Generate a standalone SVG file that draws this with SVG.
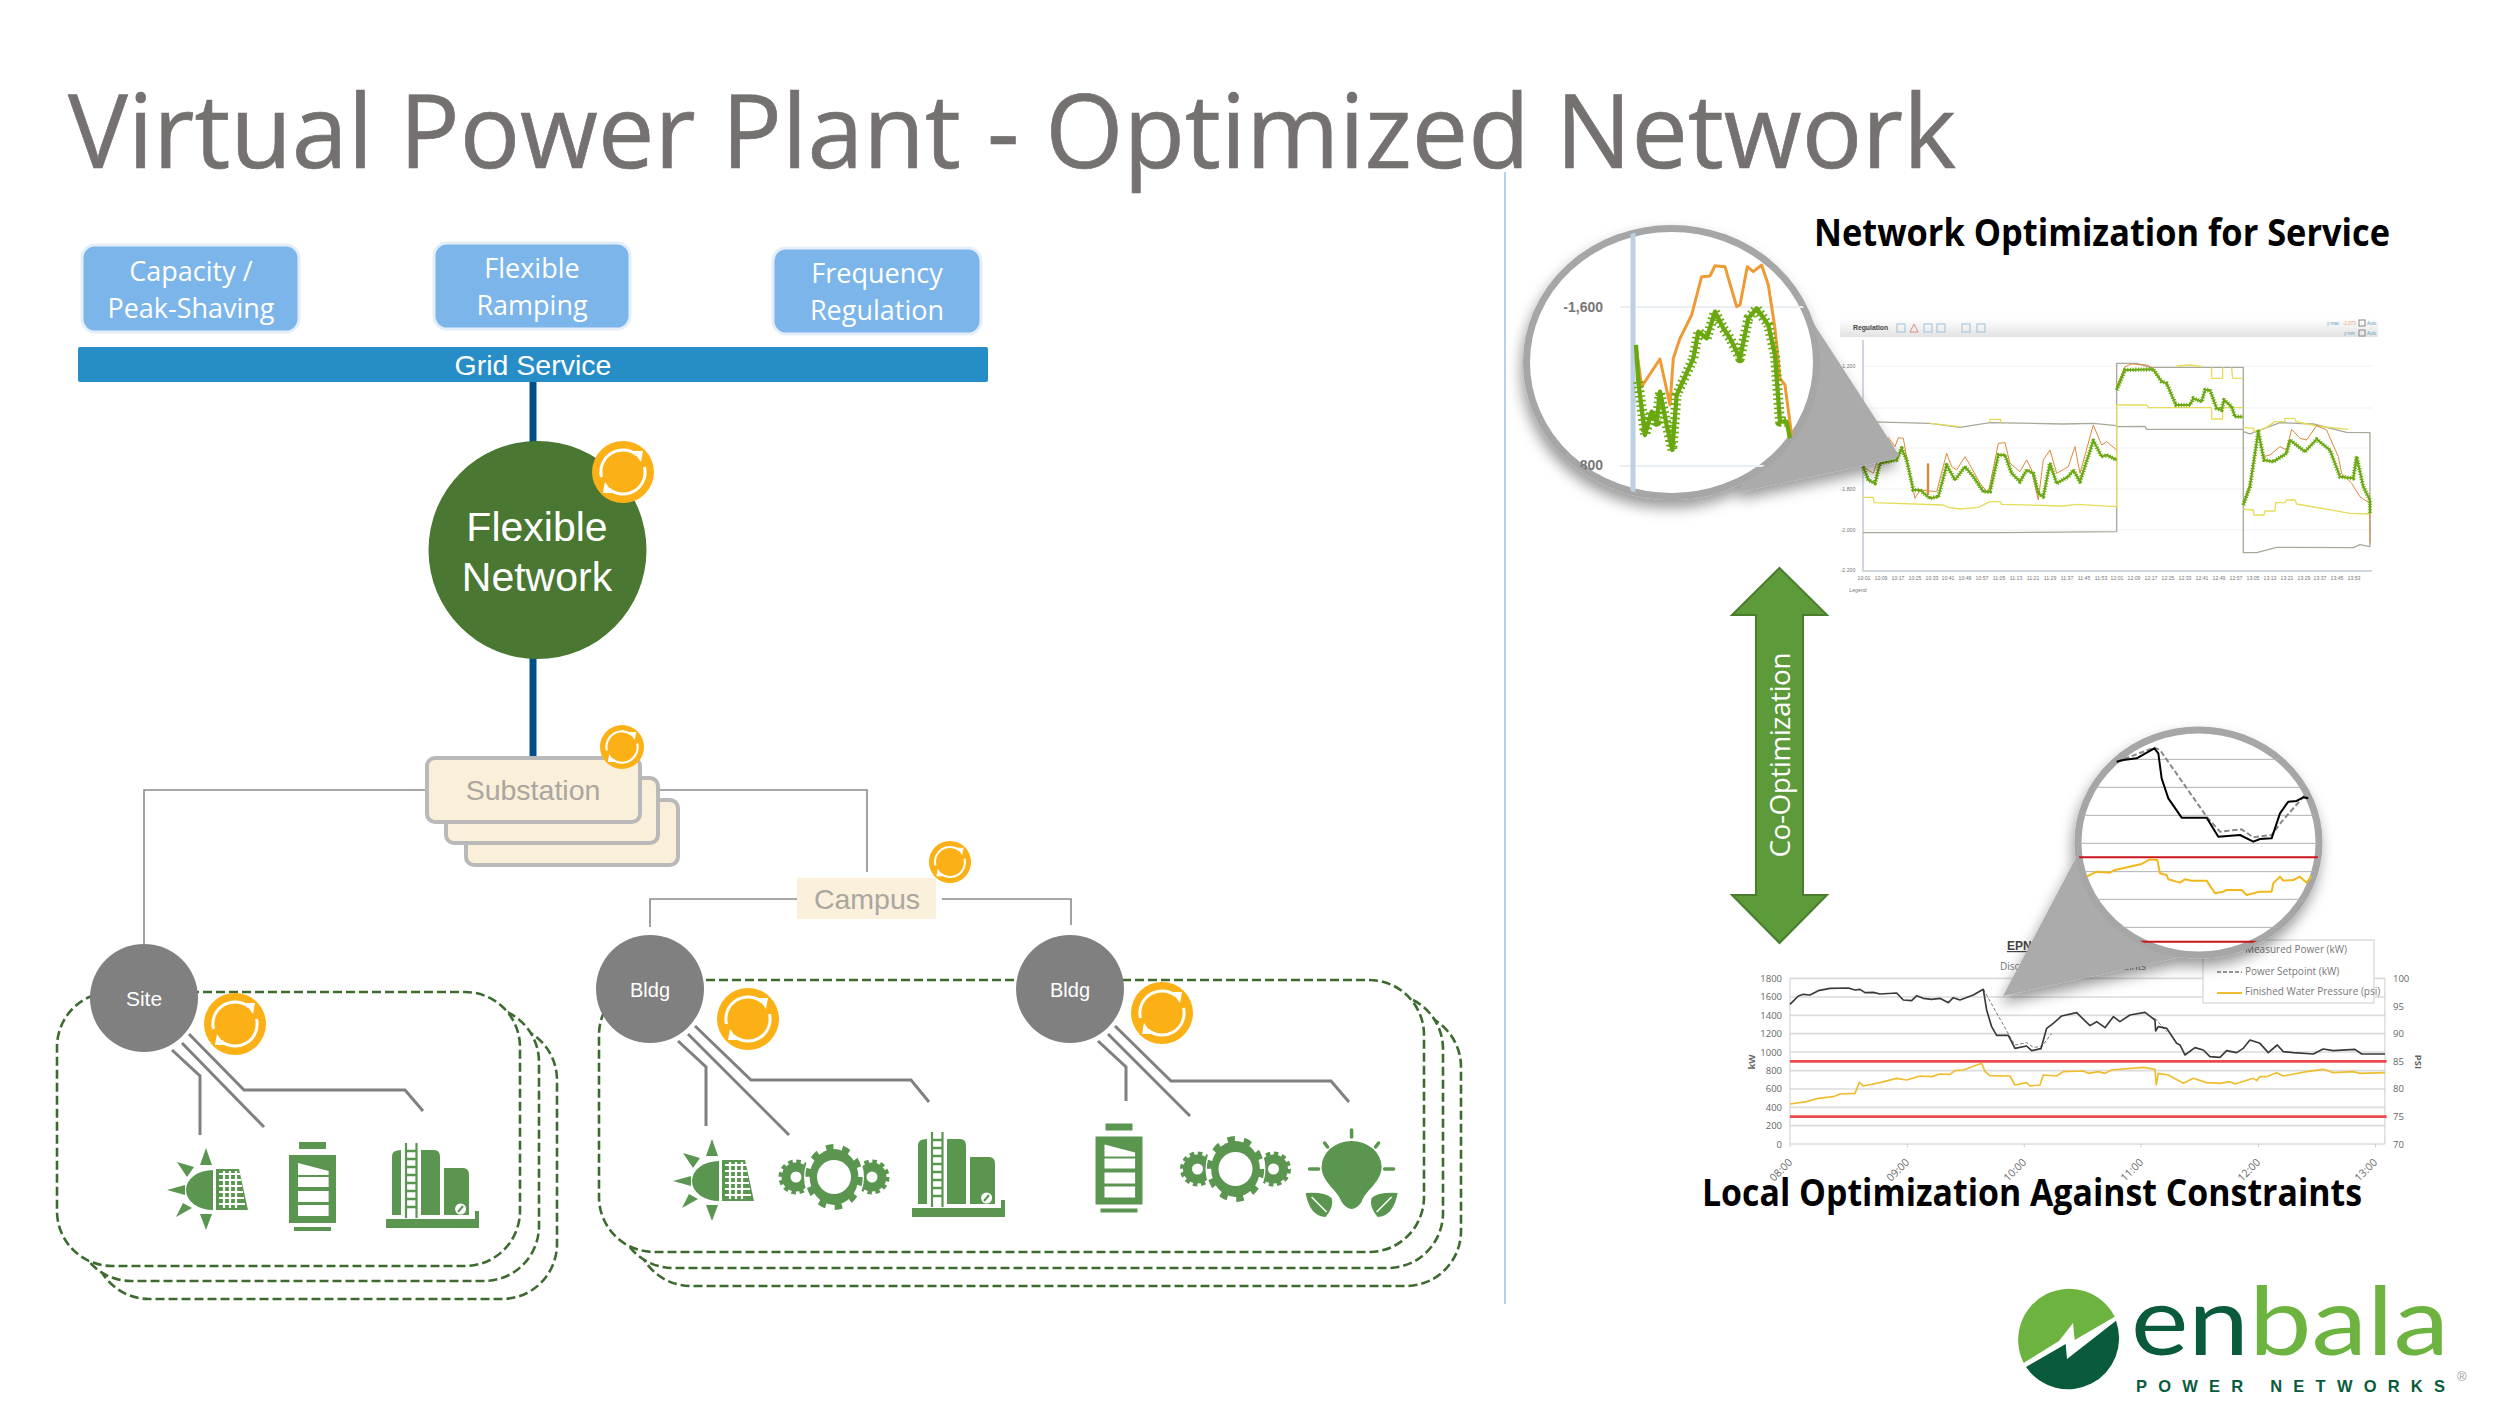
<svg xmlns="http://www.w3.org/2000/svg" width="2500" height="1407" viewBox="0 0 2500 1407">
<style>
.os{font-family:"Open Sans","Noto Sans",sans-serif}
.ar{font-family:"Liberation Sans",Arial,sans-serif}
.sv{fill:#fff;text-anchor:middle;font-size:28.5px}
.sv2{fill:#fff;text-anchor:middle;font-size:27px}
.box{fill:#7cb5ea;stroke:#e4eef9;stroke-width:3}
.wire{fill:none;stroke:#8a8a8a;stroke-width:1.6}
.link{fill:none;stroke:#808080;stroke-width:3}
.trunk{stroke:#014f88;stroke-width:7}
.sub{fill:#faefd9;stroke:#b9b9b9;stroke-width:4}
.hub{fill:#808080}
.dash{fill:#fff;stroke:#3d6b2f;stroke-width:2.6;stroke-dasharray:9 4}
.ic{fill:#5a9650}
.wh{fill:#fff}
.hl{fill:#fff;text-anchor:middle}
.sc{font-family:"Open Sans","Noto Sans",sans-serif;font-size:9.5px;fill:#666}
.xl{font-size:10.5px}
.tk{font-family:"Liberation Sans",Arial,sans-serif;font-size:5.2px;fill:#777;text-anchor:middle}
.pl{fill:none;stroke-linejoin:round}
.lens{fill:#fff;stroke:#a6a6a6;stroke-width:7}
.call{fill:#ababab}
.h2{font-family:"Open Sans","Noto Sans",sans-serif;font-weight:700;fill:#000;font-size:38px}
.lg{font-family:"Open Sans","Noto Sans",sans-serif;font-size:10px;fill:#777}
</style>
<defs>
<filter id="sh" x="-20%" y="-20%" width="140%" height="140%"><feDropShadow dx="-2" dy="8" stdDeviation="7" flood-color="#000" flood-opacity=".4"/></filter>
<linearGradient id="hdr" x1="0" y1="0" x2="0" y2="1"><stop offset="0" stop-color="#fff"/><stop offset="1" stop-color="#e3e3e3"/></linearGradient>
<clipPath id="c1"><ellipse cx="1671.5" cy="362.5" rx="145" ry="134"/></clipPath>
<clipPath id="c2"><ellipse cx="2198.5" cy="842.5" rx="120.5" ry="112.5"/></clipPath>
<g id="sync"><circle r="31" fill="#fbb116"/><path d="M-21.500,5A22 22 0 0 1 14,-17" fill="none" stroke="#fff" stroke-width="3"/><path d="M21.500,-5A22 22 0 0 1 -14,17" fill="none" stroke="#fff" stroke-width="3"/><path d="M10,-21L20,-21L18,-10Z M-10,21L-20,21L-18,10Z" fill="#fff"/></g>
<g id="solar" class="ic"><path d="M7-20A27 20 0 0 0 7 20Z"/><path d="M0-42L-6-25H6ZM0 40L-6 24H6ZM-39 0L-21-5V5ZM-29-28L-12-23L-19-13ZM-30 27L-14 18L-23 13Z"/><path d="M10-21H33L42 20H10Z"/><path d="M13-16H34M13-10H35M13-4H36M13 2H37M13 8H38M13 14H39M18-19V18M24-19V18M30-19V18" fill="none" stroke="#fff" stroke-width="2.200"/></g>
<g id="batt"><path class="ic" d="M-13-45H14V-38H-13ZM-23-32H24V36H-23ZM-18 40H19V44H-18Z"/><path class="wh" d="M-14-24L16.600-16V-12H-14ZM-14-10H16.600V0H-14ZM-14 4H16.600V15H-14ZM-14 18H16.600V29H-14Z"/></g>
<g id="tank"><path class="ic" d="M-46 32H47V41H-46ZM-40-31Q-40-37-31-37V28H-40ZM-11-37H2Q8-37 8-30V28H-11ZM12-19H31Q37-19 37-12V28H12ZM43 24H47V32H43Z"/><path d="M-26-44V31M-15.500-44V31" stroke="#5a9650" stroke-width="2.200"/><path d="M-26-36H-15.500M-26-28H-15.500M-26-20H-15.500M-26-12H-15.500M-26-4H-15.500M-26 4H-15.500M-26 12H-15.500M-26 20H-15.500" stroke="#5a9650" stroke-width="2.500"/><circle cx="28.600" cy="22" r="5.500" fill="#fff"/><path d="M26 25L31 19" stroke="#5a9650" stroke-width="2"/></g>
<g id="gear"><g fill="none" stroke="#5a9650"><circle cx="-38" r="10" stroke-width="9"/><circle cx="-38" r="15.500" stroke-width="4" stroke-dasharray="4.500 3.600"/><circle cx="38" r="10" stroke-width="9"/><circle cx="38" r="15.500" stroke-width="4" stroke-dasharray="4.500 3.600"/></g><ellipse rx="30" ry="35" class="wh"/><g transform="scale(.87 1)"><circle class="ic" r="28"/><circle r="30" fill="none" stroke="#5a9650" stroke-width="6" stroke-dasharray="8.500 10.350"/></g><circle r="17" class="wh"/></g>
<g id="bulb"><path class="ic" d="M-30-5A30 26 0 0 1 30-5C30 10 14 18 10 30Q0 44-10 30C-14 18-30 10-30-5Z"/><path d="M0-42V-35M-27-29L-24-25M27-29L24-25M-42-3H-33M33-3H42" stroke="#5a9650" stroke-width="3.500" stroke-linecap="round"/><path class="ic" d="M-46 21Q-26 20-20 26Q-17 34-26 45Q-42 44-46 21ZM46 21Q26 20 20 26Q17 34 26 45Q42 44 46 21Z"/><path d="M-40 25L-25 40M40 25L25 40" stroke="#fff" stroke-width="1.500"/></g>
</defs>

<rect width="2500" height="1407" fill="#fff"/>
<text id="title" class="os" x="68" y="168" font-size="103" fill="#767171" stroke="#767171" stroke-width=".7" textLength="1888" lengthAdjust="spacingAndGlyphs">Virtual Power Plant - Optimized Network</text>
<line id="divider" x1="1505" y1="172" x2="1505" y2="1304" stroke="#9cc3de" stroke-width="1.500"/>

<g id="connectors">
<line class="trunk" x1="533" y1="382" x2="533" y2="445"/>
<line class="trunk" x1="533" y1="655" x2="533" y2="760"/>
<path class="wire" d="M427 790H144V945"/>
<path class="wire" d="M640 790H867V872"/>
<path class="wire" d="M797 899H650V927"/>
<path class="wire" d="M942 899H1071V925"/>
</g>

<g id="stack-site"><rect class="dash" x="94" y="1025" width="463" height="274" rx="55"/><rect class="dash" x="76" y="1007" width="463" height="274" rx="55"/><rect class="dash" x="57" y="992" width="463" height="274" rx="55"/></g>
<g id="stack-campus"><rect class="dash" x="636" y="1012" width="825" height="274" rx="55"/><rect class="dash" x="618" y="994" width="825" height="274" rx="55"/><rect class="dash" x="599" y="980" width="825" height="272" rx="55"/></g>

<g id="links">
<path class="link" d="M172 1050L200 1076V1135"/><path class="link" d="M182 1043L264 1127"/><path class="link" d="M189 1034L244 1090H405L423 1111"/>
<path class="link" d="M678 1041L706 1067V1126"/><path class="link" d="M688 1034L789 1135"/><path class="link" d="M695 1026L751 1080H911L929 1102"/>
<path class="link" d="M1098 1041L1126 1067V1101"/><path class="link" d="M1108 1034L1190 1116"/><path class="link" d="M1115 1026L1171 1081H1331L1349 1102"/>
</g>

<g id="svc-capacity"><rect class="box" x="82" y="245" width="217" height="87" rx="13"/><text class="os sv2" x="191" y="281">Capacity /</text><text class="os sv2" x="191" y="318" textLength="167" lengthAdjust="spacingAndGlyphs">Peak-Shaving</text></g>
<g id="svc-ramping"><rect class="box" x="434" y="243" width="196" height="86" rx="13"/><text class="os sv2" x="532" y="278">Flexible</text><text class="os sv2" x="532" y="315">Ramping</text></g>
<g id="svc-frequency"><rect class="box" x="773" y="248" width="208" height="86" rx="13"/><text class="os sv2" x="877" y="283">Frequency</text><text class="os sv2" x="877" y="320">Regulation</text></g>
<g id="grid-service"><rect x="78" y="347" width="910" height="35" rx="2" fill="#268dc6"/><text class="ar sv" x="533" y="375">Grid Service</text></g>
<g id="flexible-network"><circle cx="537.500" cy="550" r="109" fill="#4a7731"/><text class="ar hl" x="537" y="541" font-size="41">Flexible</text><text class="ar hl" x="537" y="591" font-size="41">Network</text><use href="#sync" x="623" y="472"/></g>
<g id="substation"><rect class="sub" x="466" y="800" width="212" height="65" rx="8"/><rect class="sub" x="446" y="778" width="212" height="65" rx="8"/><rect class="sub" x="427" y="758" width="213" height="64" rx="8"/><text class="ar" x="533" y="800" font-size="28.500" fill="#aaa6a0" text-anchor="middle">Substation</text><use href="#sync" transform="translate(622 747) scale(.71)"/></g>
<g id="campus"><rect x="797" y="878" width="139" height="41" fill="#faf0dc"/><text class="ar" x="867" y="909" font-size="28.500" fill="#aaa6a0" text-anchor="middle">Campus</text><use href="#sync" transform="translate(950 862) scale(.68)"/></g>

<g id="site"><circle class="hub" cx="144" cy="998" r="54"/><text class="ar hl" x="144" y="1006" font-size="21">Site</text><use href="#sync" x="235" y="1024"/></g>
<g id="bldg-1"><circle class="hub" cx="650" cy="989" r="54"/><text class="ar hl" x="650" y="997" font-size="20">Bldg</text><use href="#sync" x="748" y="1019"/></g>
<g id="bldg-2"><circle class="hub" cx="1070" cy="989" r="54"/><text class="ar hl" x="1070" y="997" font-size="20">Bldg</text><use href="#sync" x="1162" y="1013"/></g>

<g id="assets">
<use href="#solar" x="206" y="1190"/><use href="#batt" x="312" y="1187"/><use href="#tank" x="432" y="1187"/>
<use href="#solar" x="712" y="1181"/><use href="#gear" x="834" y="1177"/><use href="#tank" x="958" y="1176"/>
<use href="#batt" x="1118.500" y="1168.500"/><use href="#gear" x="1235.500" y="1169"/><use href="#bulb" x="1351.600" y="1172"/>
</g>

<g id="co-optimization"><path d="M1779.500 568L1827 615H1803V895H1827L1779.500 943L1732 895H1756V615H1732Z" fill="#5c9a3a" stroke="#4a7d2d" stroke-width="2"/><text class="os" transform="translate(1790 755) rotate(-90)" font-size="28" fill="#fff" text-anchor="middle" textLength="205">Co-Optimization</text></g>

<text id="head-top" class="h2" x="1814" y="246" textLength="576" lengthAdjust="spacingAndGlyphs">Network Optimization for Service</text>
<text id="head-bottom" class="h2" x="1702" y="1206" textLength="660" lengthAdjust="spacingAndGlyphs">Local Optimization Against Constraints</text>

<g id="chart-top">
<rect x="1840" y="318" width="538" height="19" fill="url(#hdr)"/>
<text class="ar" x="1853" y="330" font-size="6.800" font-weight="700" fill="#444">Regulation</text>
<g fill="none" stroke="#9fc0da" stroke-width="1"><rect x="1897" y="324" width="8" height="8"/><rect x="1924" y="324" width="8" height="8"/><rect x="1937" y="324" width="8" height="8"/><rect x="1962" y="324" width="8" height="8"/><rect x="1977" y="324" width="8" height="8"/></g>
<path d="M1910 332L1914 324L1918 332Z" fill="none" stroke="#e08a80"/>
<g class="ar" font-size="4.500"><text x="2327" y="325" fill="#5aa0c0">y max</text><text x="2343" y="325" fill="#e8a070">-1,073</text><text x="2367" y="325" fill="#5aa0c0">Auto</text><text x="2344" y="335" fill="#5aa0c0">y min</text><text x="2367" y="335" fill="#5aa0c0">Auto</text></g>
<rect x="2359" y="320" width="6" height="6" fill="none" stroke="#888"/><rect x="2359" y="330" width="6" height="6" fill="none" stroke="#888"/>
<path d="M1863 366H2372M1863 408H2372M1863 448H2372M1863 489H2372M1863 530H2372" stroke="#f1f1f1"/>
<path d="M1863 340V571H2372" fill="none" stroke="#c0ccd8" stroke-width="1.500"/>
<g class="tk"><text x="1848" y="368">-1,200</text><text x="1848" y="491">-1,800</text><text x="1848" y="532">-2,000</text><text x="1848" y="572">-2,200</text></g>
<g class="tk"><text x="1864" y="580">10:01</text><text x="1881" y="580">10:09</text><text x="1898" y="580">10:17</text><text x="1915" y="580">10:25</text><text x="1932" y="580">10:33</text><text x="1948" y="580">10:41</text><text x="1965" y="580">10:49</text><text x="1982" y="580">10:57</text><text x="1999" y="580">11:05</text><text x="2016" y="580">11:13</text><text x="2033" y="580">11:21</text><text x="2050" y="580">11:29</text><text x="2067" y="580">11:37</text><text x="2084" y="580">11:45</text><text x="2101" y="580">11:53</text><text x="2117" y="580">12:01</text><text x="2134" y="580">12:09</text><text x="2151" y="580">12:17</text><text x="2168" y="580">12:25</text><text x="2185" y="580">12:33</text><text x="2202" y="580">12:41</text><text x="2219" y="580">12:49</text><text x="2236" y="580">12:57</text><text x="2253" y="580">13:05</text><text x="2270" y="580">13:13</text><text x="2287" y="580">13:21</text><text x="2304" y="580">13:29</text><text x="2320" y="580">13:37</text><text x="2337" y="580">13:45</text><text x="2354" y="580">13:53</text></g>
<text class="tk" x="1858" y="592">Legend</text>
<g transform="translate(1830 310) scale(.3333)">
<path class="pl" stroke="#a8a89a" stroke-width="4" d="M99 668L500 668L860 665V160H920L960 172H1240V728H1280L1340 712L1570 713L1590 704L1620 710V370M860 350L945 349L950 358H1240M99 335L300 340L390 352L480 338L700 342L790 340L860 347M1240 365L1260 372L1350 338L1450 342L1550 367L1620 368V438"/>
<path class="pl" stroke="#e6dc5a" stroke-width="4" d="M99 562H130L132 578L340 585L355 592L390 597L445 592L480 575H510L515 583L700 588L740 583L860 590V285H950L955 293H1145V327H1178V293H1240M1240 598L1270 600L1272 615H1302L1305 603H1335L1337 578H1365L1370 570H1395L1400 582L1560 610L1620 612M1240 352L1272 355V365L1305 355L1335 335H1365V325H1395L1398 335L1460 348L1555 358M480 338V328H512V338M300 340L390 350M1040 168L1080 165L1115 170M1145 172V205H1178V172M1205 172L1208 205H1240"/>
<path class="pl" stroke="#d98a3a" stroke-width="3" d="M99 470L130 490L150 430L175 383L195 410L205 383L220 385L235 470L255 565L270 540L320 545L350 430L365 470L380 480L405 440L420 465L450 520L475 550L505 400L525 398L540 460L570 485L590 450L605 480L625 570L640 450L660 420L680 490L715 470L735 410L750 490L790 345L815 405L830 395L860 420M860 230L885 170L905 162L950 165L970 175M1240 580L1260 520L1285 365L1300 440L1320 435L1350 410L1370 420L1385 358L1410 385L1430 390L1460 347L1490 360L1525 440L1535 490L1565 520L1590 560L1620 580V700"/>
<path stroke="#d98a3a" stroke-width="7" d="M294 460V555"/>
<path id="g1" class="pl" stroke="#6aa810" stroke-width="6" d="M99 470L115 510L135 520L150 460L200 450L215 415L230 450L250 540L270 540L300 565L325 560L350 465L375 510L405 470L430 500L460 545L480 545L505 435L525 435L545 490L570 515L590 480L610 490L625 550L640 560L660 460L680 520L715 500L730 480L750 515L790 392L815 440L830 435L860 450M860 240L885 180L970 178L995 215L1010 220L1038 285H1080L1090 265L1115 275L1125 240H1140L1160 295L1175 300L1182 270L1205 290L1215 320H1238M1240 585L1260 530L1285 365L1302 450L1330 455L1370 430L1380 390L1425 425L1460 388L1500 420L1530 500L1570 505L1580 440L1600 530L1620 570V610"/>
<path class="pl" stroke="#6aa810" stroke-width="13" stroke-dasharray="3 5" d="M99 470L115 510L135 520L150 460L200 450L215 415L230 450L250 540L270 540L300 565L325 560L350 465L375 510L405 470L430 500L460 545L480 545L505 435L525 435L545 490L570 515L590 480L610 490L625 550L640 560L660 460L680 520L715 500L730 480L750 515L790 392L815 440L830 435L860 450M860 240L885 180L970 178L995 215L1010 220L1038 285H1080L1090 265L1115 275L1125 240H1140L1160 295L1175 300L1182 270L1205 290L1215 320H1238M1240 585L1260 530L1285 365L1302 450L1330 455L1370 430L1380 390L1425 425L1460 388L1500 420L1530 500L1570 505L1580 440L1600 530L1620 570V610"/>
</g>
</g>

<g id="chart-bottom">
<text class="ar" x="2007" y="950" font-size="12" font-weight="700" fill="#444" text-decoration="underline">EPN</text>
<text class="lg" x="2000" y="970" font-size="11">Disc</text><text class="lg" x="2146" y="970" text-anchor="end">straints</text>
<g transform="translate(1740 960) scale(.3333)">
<path stroke="#dcdcdc" stroke-width="5" d="M150 55H1935M150 111H1935M150 166H1935M150 221H1935M150 276H1935M150 332H1935M150 387H1935M150 442H1935M150 497H1935M150 552H1935"/>
<path d="M150 55V552M1935 55V552M150 552V562M502 552V562M853 552V562M1203 552V562M1556 552V562M1907 552V562" fill="none" stroke="#ccc" stroke-width="3"/>
<path stroke="#ea4a4e" stroke-width="8" d="M150 304H1940M150 470H1940"/>
<path class="pl" stroke="#777" stroke-width="3" stroke-dasharray="10 6" d="M730 88L810 230L825 255L860 248L880 262L905 260L935 220M1245 175L1280 215"/>
<path class="pl" stroke="#f0bd30" stroke-width="5" d="M150 432L200 425L235 415L280 410L300 402L345 400L358 367L370 378L420 368L470 355L500 360L540 348L575 350L600 342L630 343L645 332L670 330L725 310L735 335L750 347L810 348L825 375L860 368L870 378L900 375L910 345L950 348L970 335L1030 333L1045 340L1075 335L1095 340L1115 330L1210 322L1245 328L1249 375L1255 340L1285 345L1330 370L1360 355L1400 368L1440 370L1470 365L1485 372L1540 355L1550 362L1560 350L1580 350L1610 338L1630 348L1700 335L1750 328L1780 338L1840 335L1860 340L1935 338"/>
<path class="pl" stroke="#3a3a3a" stroke-width="5" d="M150 133L175 108L190 103L210 105L235 92L270 85L325 84L345 90L360 88L375 98L400 97L420 102L470 99L490 120L515 122L530 107L550 115L575 118L600 115L625 128L640 113L660 120L700 105L730 88L740 150L755 200L770 226L805 226L825 265L860 258L875 272L903 266L920 205L940 190L965 168L1010 158L1050 197L1070 185L1095 203L1120 170L1140 185L1170 165L1215 157L1245 180L1247 213L1255 200L1280 205L1310 250L1320 255L1335 285L1365 263L1390 270L1410 290L1440 292L1460 272L1490 278L1510 265L1530 240L1560 250L1585 278L1612 255L1630 275L1660 278L1720 282L1750 267L1780 272L1845 268L1865 282L1935 282"/>
</g>
<g class="sc" text-anchor="end"><text x="1782" y="982">1800</text><text x="1782" y="1000">1600</text><text x="1782" y="1019">1400</text><text x="1782" y="1037">1200</text><text x="1782" y="1056">1000</text><text x="1782" y="1074">800</text><text x="1782" y="1092">600</text><text x="1782" y="1111">400</text><text x="1782" y="1129">200</text><text x="1782" y="1148">0</text></g>
<g class="sc"><text x="2393" y="982">100</text><text x="2393" y="1010">95</text><text x="2393" y="1037">90</text><text x="2393" y="1065">85</text><text x="2393" y="1092">80</text><text x="2393" y="1120">75</text><text x="2393" y="1148">70</text></g>
<g class="sc xl" text-anchor="end"><text transform="translate(1793 1163) rotate(-45)">08:00</text><text transform="translate(1910 1163) rotate(-45)">09:00</text><text transform="translate(2027 1163) rotate(-45)">10:00</text><text transform="translate(2144 1163) rotate(-45)">11:00</text><text transform="translate(2261 1163) rotate(-45)">12:00</text><text transform="translate(2378 1163) rotate(-45)">13:00</text></g>
<text class="sc" transform="translate(1755 1062) rotate(-90)" text-anchor="middle" font-weight="700">kW</text>
<text class="sc" transform="translate(2415 1062) rotate(90)" text-anchor="middle" font-weight="700">PSI</text>
<rect x="2203" y="940" width="171" height="63" fill="#fff" stroke="#ddd" stroke-width="1.500"/>
<text class="lg" x="2245" y="953">Measured Power (kW)</text><text class="lg" x="2245" y="975">Power Setpoint (kW)</text><text class="lg" x="2245" y="995">Finished Water Pressure (psi)</text>
<path d="M2217 972H2242" stroke="#777" stroke-width="1.500" stroke-dasharray="4 2"/><path d="M2217 993H2242" stroke="#f0bd30" stroke-width="2"/>
</g>

<g id="magnifier-top"><g filter="url(#sh)"><path class="call" d="M1805 310L1899 455L1895 459L1740 492Z"/><ellipse class="lens" cx="1671.500" cy="362.500" rx="145" ry="134"/></g>
<g clip-path="url(#c1)">
<path d="M1620 307H1815M1620 466H1815" stroke="#e9eef3" stroke-width="2"/>
<path d="M1633 225V495" stroke="#bcd0e4" stroke-width="5"/>
<text class="ar" x="1603" y="312" font-size="14" fill="#777" text-anchor="end" font-weight="700">-1,600</text><text class="ar" x="1603" y="470" font-size="14" fill="#777" text-anchor="end" font-weight="700">800</text>
<g transform="translate(1510 215) scale(.3333)"><path class="pl" stroke="#ee9a35" stroke-width="9" d="M378 390L395 515L450 432L480 570L490 430L510 370L545 300L575 185L600 183L615 152L645 155L680 275L690 270L712 155L730 170L755 150L775 210L795 340L810 490L825 510L845 660"/><path class="pl" stroke="#6aa810" stroke-width="13" d="M378 390L385 500L405 660L425 590L440 620L450 530L470 630L487 705L500 540L550 430L565 350L590 370L615 290L640 340L660 370L690 430L715 310L740 280L775 330L795 420L810 620L830 620L840 670"/><path class="pl" stroke="#6aa810" stroke-width="30" stroke-dasharray="5 9" d="M385 500L405 660L425 590L440 620L450 530L470 630L487 705L500 540L550 430L565 350L590 370L615 290L640 340L660 370L690 430L715 310L740 280L775 330L795 420L810 620L830 620"/></g>
</g></g>

<g id="magnifier-bottom"><g filter="url(#sh)"><path class="call" d="M2080 850L2003 996L2190 955Z"/><ellipse class="lens" cx="2198.500" cy="842.500" rx="120.500" ry="112.500"/></g>
<g clip-path="url(#c2)"><g transform="translate(2060 720) scale(.3333)">
<path stroke="#b0b0b0" stroke-width="3" d="M40 118H800M40 202H800M40 286H800M40 370H800M40 455H800M40 538H800M40 622H800"/>
<path stroke="#c8161c" stroke-width="6" d="M40 412H800M40 665H800"/>
<path class="pl" stroke="#888" stroke-width="6" stroke-dasharray="16 8" d="M170 125L283 83L300 90L440 290L480 335L545 328L580 352L635 345L665 305L735 225"/>
<path class="pl" stroke="#000" stroke-width="6" d="M170 125L190 120L230 115L283 85L295 100L305 175L325 235L365 293H440L475 350L540 345L580 365L600 357L635 355L660 280L685 245L710 243L730 232L745 235"/>
<path class="pl" stroke="#f2b71c" stroke-width="6" d="M80 470L110 455L150 458L165 450L245 432L270 418L292 420L300 460L320 465L325 478L360 488L375 478L395 482L440 482L465 520L490 515L500 510L545 510L560 525L600 515L635 515L640 490L660 470L670 482L700 480L720 470L740 488L755 468"/>
</g></g></g>

<g id="logo">
<g transform="translate(3 4)">
<path d="M2020.700 1359L2056 1337L2070 1319L2071.700 1336L2111.700 1312.700A51 51 0 0 0 2020.700 1359Z" fill="#6db33f"/>
<path d="M2023 1363L2062.700 1340L2064 1355L2113 1316.700A51 51 0 0 1 2023 1363Z" fill="#0a5b3c"/>
</g>
<text x="2131" y="1355" font-family="Lato,'Open Sans',sans-serif" font-weight="400" font-size="95" fill="#0a5b3c" textLength="118" lengthAdjust="spacingAndGlyphs">en</text>
<text x="2249" y="1355" font-family="Lato,'Open Sans',sans-serif" font-weight="400" font-size="95" fill="#6db33f" textLength="200" lengthAdjust="spacingAndGlyphs">bala</text>
<text x="2136" y="1392" font-family="'Liberation Sans',sans-serif" font-weight="700" font-size="16.500" fill="#0a5b3c" textLength="309">POWER NETWORKS</text>
<text x="2457" y="1381" font-family="'Liberation Sans',sans-serif" font-size="13" fill="#999">®</text>
</g>
</svg>
